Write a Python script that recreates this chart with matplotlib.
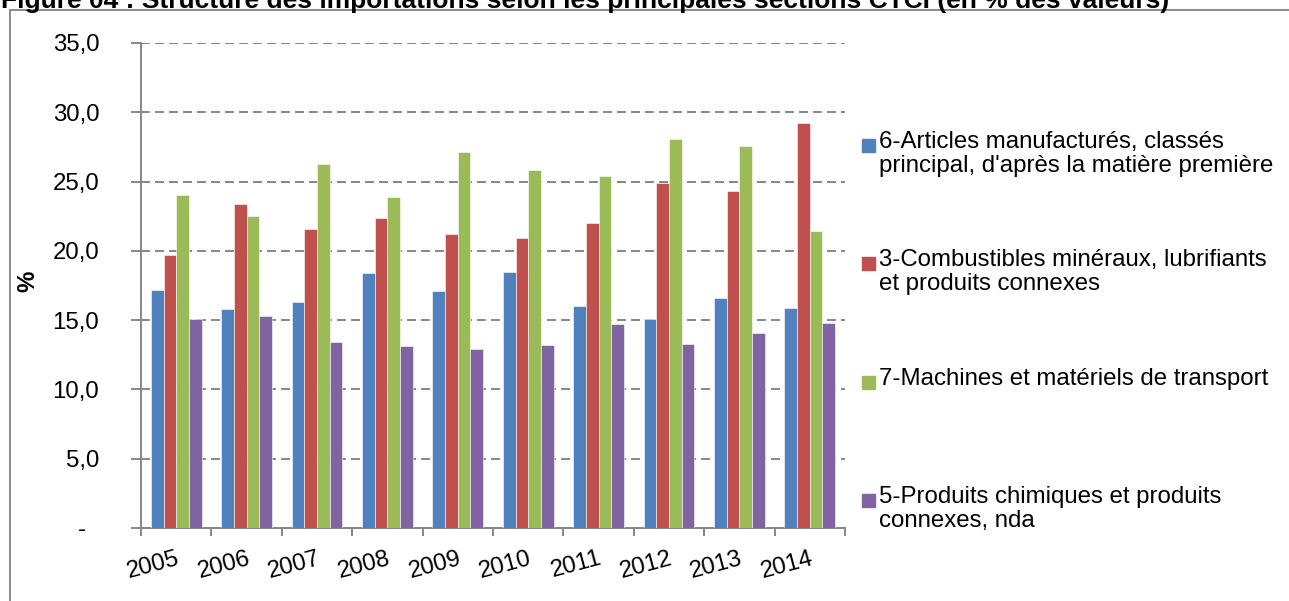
import numpy as np
import matplotlib
matplotlib.use("Agg")
import matplotlib.pyplot as plt
from matplotlib.patches import Rectangle
from matplotlib.ticker import FuncFormatter, FixedLocator

plt.rcParams['font.family'] = ['Liberation Sans', 'DejaVu Sans']

# Data (% of import value)
years = ['2005', '2006', '2007', '2008', '2009', '2010', '2011', '2012', '2013', '2014']
manufactures = [17.2, 15.8, 16.3, 18.4, 17.1, 18.5, 16.0, 15.1, 16.6, 15.9]
combustibles = [19.7, 23.4, 21.6, 22.4, 21.2, 20.9, 22.0, 24.9, 24.3, 29.2]
machines = [24.0, 22.5, 26.3, 23.9, 27.1, 25.8, 25.4, 28.1, 27.6, 21.4]
chimiques = [15.1, 15.3, 13.4, 13.1, 12.9, 13.2, 14.7, 13.3, 14.1, 14.8]

series_labels = [
    "6-Articles manufacturés, classés\nprincipal, d'après la matière première",
    "3-Combustibles minéraux, lubrifiants\net produits connexes",
    "7-Machines et matériels de transport",
    "5-Produits chimiques et produits\nconnexes, nda",
]
colors = ['#4F81BD', '#C0504D', '#9BBB59', '#8064A2']
title = "Figure 04 : Structure des importations selon les principales sections CTCI (en % des valeurs)"

W, H = 1289, 601
FS = 17.3
fig = plt.figure(figsize=(W / 100, H / 100), dpi=100)

def px(x, y):
    # pixel (from top-left) -> figure fraction
    return x / W, 1 - y / H

ax = fig.add_axes([141 / W, 73 / H, 704 / W, 485 / H])

grey = '#868686'
x = np.arange(len(years))
bw = 0.18
all_series = [manufactures, combustibles, machines, chimiques]
for i, (vals, c) in enumerate(zip(all_series, colors)):
    ax.bar(x + (i - 1.5) * bw, vals, width=bw, color=c, edgecolor='white',
           linewidth=0.4, zorder=3)

ax.set_xlim(-0.5, len(years) - 0.5)
ax.set_ylim(0, 35)
ax.set_yticks(np.arange(0, 36, 5))
ax.yaxis.set_major_formatter(FuncFormatter(
    lambda v, p: '-  ' if v == 0 else ('%.1f' % v).replace('.', ',')))
ax.yaxis.grid(True, color=grey, linewidth=1.4, dashes=(4.6, 2.6), zorder=0)
ax.tick_params(axis='y', length=7, width=1.4, color=grey, pad=23,
               labelsize=FS, direction='out')

ax.set_xticks(x)
ax.set_xticklabels(years, rotation=15, ha='right', rotation_mode='anchor',
                   fontsize=FS)
ax.tick_params(axis='x', which='major', length=0, pad=14)
ax.xaxis.set_minor_locator(FixedLocator(np.arange(-0.5, len(years), 1)))
ax.tick_params(axis='x', which='minor', length=6, width=1.4, color=grey,
               direction='out')

for s in ['top', 'right']:
    ax.spines[s].set_visible(False)
for s in ['left', 'bottom']:
    ax.spines[s].set_color(grey)
    ax.spines[s].set_linewidth(1.4)
ax.set_axisbelow(True)

# y label
fig.text(*px(28, 281), '%', rotation=90, fontsize=FS, fontweight='bold',
         ha='center', va='center')

# legend, drawn Excel-like (square aligned with first line)
leg_y = [145, 263, 382, 500]
for lab, c, yy in zip(series_labels, colors, leg_y):
    fx, fy = px(862, yy + 6.5)
    fig.patches.append(Rectangle((fx, fy), 13 / W, 13 / H, color=c,
                                 transform=fig.transFigure, figure=fig))
    fig.text(*px(879, yy - 14), lab, fontsize=FS, ha='left', va='top',
             linespacing=1.1)

# title, cut off at the top as in the source
fig.text(*px(1, 8), title, fontsize=19, fontweight='bold', ha='left',
         va='baseline')

# outer frame of the chart area
fx, fy = px(10, 10)
fig.patches.append(Rectangle((fx, -0.2), 1.2, fy + 0.2, fill=False,
                             edgecolor='#8c8c8c', linewidth=1.4,
                             transform=fig.transFigure, figure=fig))

fig.savefig('out.png', dpi=100)
